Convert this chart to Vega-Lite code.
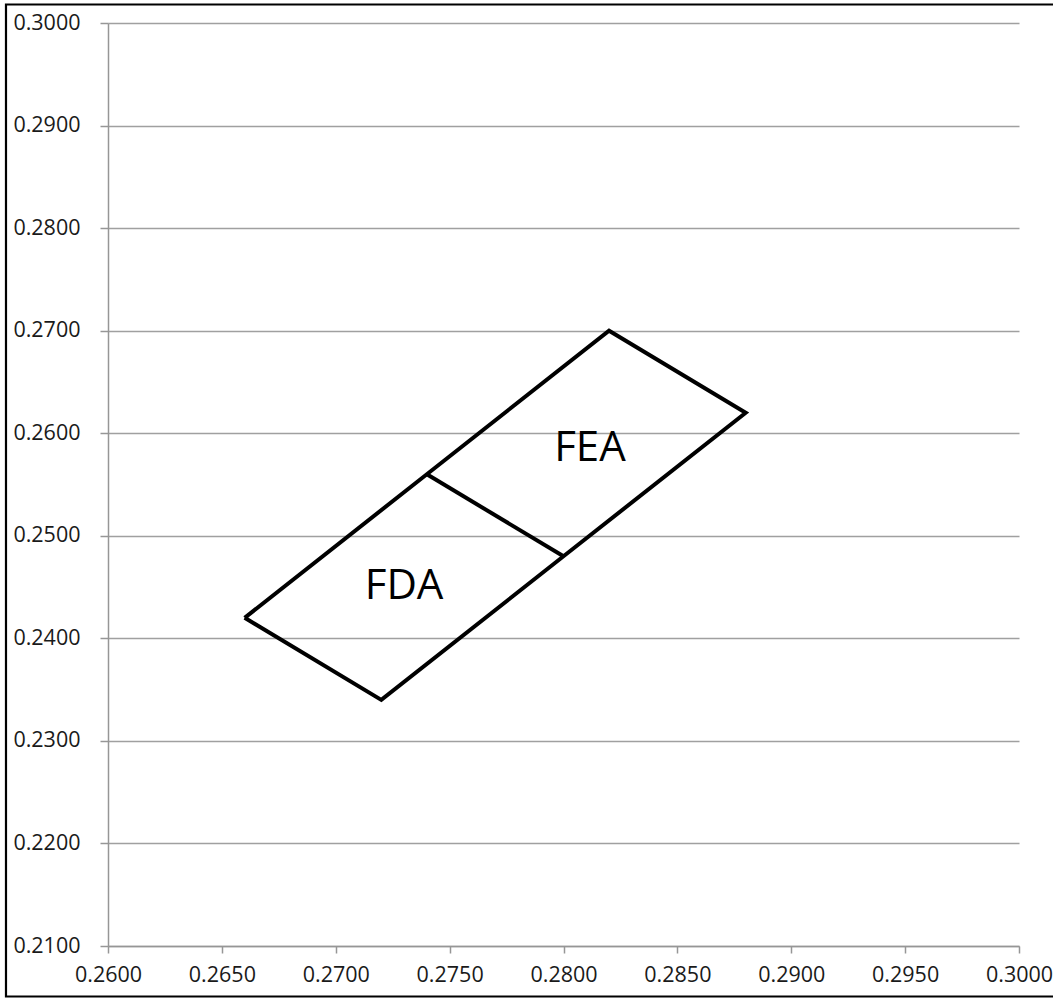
{
  "$schema": "https://vega.github.io/schema/vega-lite/v6.json",
  "width": 911,
  "height": 923,
  "autosize": {"type": "none"},
  "padding": {"left": 108, "top": 23, "right": 34, "bottom": 53},
  "background": "white",
  "config": {
    "view": {"stroke": null},
    "axis": {
      "labelFont": "Open Sans",
      "labelFontSize": 21.5,
      "labelColor": "#1a1a1a",
      "domainColor": "#969696",
      "domainWidth": 1.5,
      "tickColor": "#969696",
      "tickWidth": 1.5,
      "tickSize": 8,
      "gridColor": "#a0a0a0",
      "gridWidth": 1.3,
      "title": null
    }
  },
  "datasets": {
    "shape": [
      {"part": "outline", "order": 1, "x": 0.266, "y": 0.242},
      {"part": "outline", "order": 2, "x": 0.272, "y": 0.234},
      {"part": "outline", "order": 3, "x": 0.280, "y": 0.248},
      {"part": "outline", "order": 4, "x": 0.288, "y": 0.262},
      {"part": "outline", "order": 5, "x": 0.282, "y": 0.270},
      {"part": "outline", "order": 6, "x": 0.274, "y": 0.256},
      {"part": "outline", "order": 7, "x": 0.266, "y": 0.242},
      {"part": "divider", "order": 1, "x": 0.274, "y": 0.256},
      {"part": "divider", "order": 2, "x": 0.280, "y": 0.248}
    ],
    "labels": [
      {"label": "FEA", "x": 0.28116, "y": 0.25734},
      {"label": "FDA", "x": 0.27300, "y": 0.24388}
    ]
  },
  "layer": [
    {
      "data": {"name": "shape"},
      "mark": {"type": "line", "color": "black", "strokeWidth": 4, "strokeJoin": "miter", "strokeCap": "butt"},
      "encoding": {
        "x": {
          "field": "x", "type": "quantitative",
          "scale": {"domain": [0.26, 0.30], "nice": false, "zero": false},
          "axis": {
            "values": [0.26, 0.265, 0.27, 0.275, 0.28, 0.285, 0.29, 0.295, 0.30],
            "format": ".4f",
            "grid": false,
            "labelPadding": 11,
            "tickSize": 7,
            "labelFlush": false
          }
        },
        "y": {
          "field": "y", "type": "quantitative",
          "scale": {"domain": [0.21, 0.30], "nice": false, "zero": false},
          "axis": {
            "values": [0.21, 0.22, 0.23, 0.24, 0.25, 0.26, 0.27, 0.28, 0.29, 0.30],
            "format": ".4f",
            "grid": true,
            "labelPadding": 20,
            "labelFlush": false
          }
        },
        "detail": {"field": "part"},
        "order": {"field": "order", "type": "quantitative"}
      }
    },
    {
      "data": {"name": "labels"},
      "mark": {"type": "text", "font": "Open Sans", "fontSize": 42, "color": "black", "align": "center", "baseline": "alphabetic"},
      "encoding": {
        "x": {"field": "x", "type": "quantitative"},
        "y": {"field": "y", "type": "quantitative"},
        "text": {"field": "label"}
      }
    },
    {
      "data": {"values": [{}]},
      "mark": {"type": "rect", "fill": null, "stroke": "black", "strokeWidth": 2.2, "clip": false},
      "encoding": {
        "x": {"datum": 0.255521},
        "x2": {"datum": 0.30162},
        "y": {"datum": 0.301804},
        "y2": {"datum": 0.205076}
      }
    }
  ]
}
